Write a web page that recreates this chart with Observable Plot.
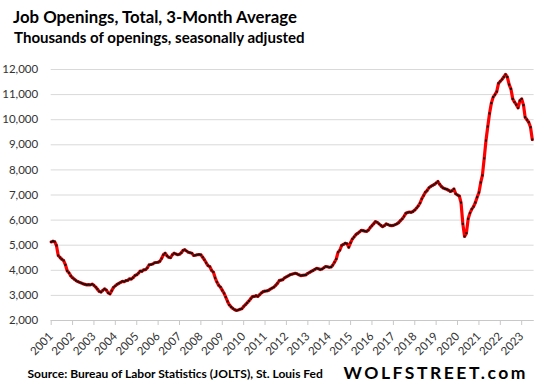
<!DOCTYPE html>
<html><head><meta charset="utf-8">
<script src="https://cdn.jsdelivr.net/npm/d3@7"></script>
<script src="https://cdn.jsdelivr.net/npm/@observablehq/plot@0.6"></script>
<style>
html,body{margin:0;padding:0;background:#fff;}
#wrap{position:relative;width:541px;height:390px;overflow:hidden;background:#fff;font-family:Lato,"Open Sans",sans-serif;}
.t{position:absolute;white-space:nowrap;font-weight:700;color:#000;line-height:1;}
#chart{position:absolute;left:0;top:52px;}
</style></head><body>
<div id="wrap">
  <div class="t" id="title">Job Openings, Total, 3-Month Average</div>
  <div class="t" id="subtitle">Thousands of openings, seasonally adjusted</div>
  <div id="chart"></div>
  <div class="t" id="source">Source: Bureau of Labor Statistics (JOLTS), St. Louis Fed</div>
  <div class="t" id="brand">WOLFSTREET.com</div>
</div>
<script>
// Monthly 3-month-average job openings (thousands), Jan of each year onward
const v2001 = [5130, 5160, 5140, 4990, 4590, 4510, 4440, 4390, 4220, 3980, 3900, 3780];
const v2002 = [3700, 3640, 3590, 3550, 3520, 3490, 3460, 3440, 3420, 3430, 3420, 3450];
const v2003 = [3400, 3330, 3250, 3160, 3130, 3200, 3260, 3210, 3100, 3060, 3190, 3320];
const v2004 = [3380, 3440, 3480, 3520, 3560, 3550, 3590, 3600, 3660, 3650, 3710, 3790];
const v2005 = [3820, 3890, 3970, 3960, 4020, 4030, 4100, 4220, 4230, 4250, 4300, 4310];
const v2006 = [4320, 4360, 4470, 4620, 4680, 4580, 4520, 4500, 4620, 4680, 4650, 4620];
const v2007 = [4640, 4700, 4790, 4820, 4770, 4720, 4700, 4680, 4590, 4600, 4620, 4630];
const v2008 = [4620, 4520, 4420, 4300, 4190, 4150, 4000, 3930, 3700, 3530, 3400, 3330];
const v2009 = [3200, 3080, 2930, 2760, 2620, 2540, 2480, 2430, 2400, 2420, 2450, 2470];
const v2010 = [2560, 2630, 2700, 2780, 2870, 2950, 2960, 2990, 2960, 3030, 3100, 3150];
const v2011 = [3170, 3180, 3200, 3250, 3290, 3330, 3400, 3480, 3590, 3610, 3630, 3700];
const v2012 = [3740, 3780, 3820, 3840, 3860, 3880, 3860, 3820, 3790, 3800, 3810, 3820];
const v2013 = [3880, 3920, 3960, 3990, 4040, 4080, 4060, 4030, 4050, 4100, 4150, 4140];
const v2014 = [4120, 4130, 4200, 4320, 4450, 4720, 4800, 4990, 5030, 5080, 5060, 4920];
const v2015 = [5100, 5250, 5330, 5420, 5470, 5530, 5590, 5580, 5560, 5550, 5600, 5700];
const v2016 = [5780, 5860, 5940, 5910, 5850, 5790, 5740, 5780, 5850, 5820, 5790, 5780];
const v2017 = [5790, 5820, 5850, 5900, 5980, 6050, 6150, 6270, 6300, 6320, 6310, 6340];
const v2018 = [6400, 6480, 6560, 6680, 6850, 6980, 7110, 7180, 7290, 7340, 7380, 7420];
const v2019 = [7480, 7540, 7430, 7340, 7280, 7250, 7230, 7190, 7140, 7170, 7240, 7050];
const v2020 = [7000, 6960, 6700, 5850, 5350, 5480, 6050, 6280, 6440, 6540, 6700, 6910];
const v2021 = [7100, 7500, 7780, 8460, 9170, 9730, 10250, 10660, 10900, 11000, 11120, 11450];
const v2022 = [11530, 11610, 11700, 11800, 11700, 11400, 11230, 10830, 10700, 10600, 10470, 10760];
const v2023 = [10830, 10580, 10100, 10000, 9900, 9700, 9210];

const yearLabels = [2001,2002,2003,2004,2005,2006,2007,2008,2009,2010,2011,2012,2013,2014,2015,2016,2017,2018,2019,2020,2021,2022,2023];
const yTicks = [2000,3000,4000,5000,6000,7000,8000,9000,10000,11000,12000];

const series = [v2001,v2002,v2003,v2004,v2005,v2006,v2007,v2008,v2009,v2010,v2011,v2012,v2013,v2014,v2015,v2016,v2017,v2018,v2019,v2020,v2021,v2022,v2023];
const data = [];
series.forEach((arr, yi) => arr.forEach((v, mi) => data.push({date: new Date(Date.UTC(yearLabels[yi], mi, 1)), value: v})));
const tickDates = yearLabels.map(y => new Date(Date.UTC(y, 0, 1)));

const chart = Plot.plot({
  width: 541, height: 305,
  marginTop: 17, marginBottom: 37, marginLeft: 50.7, marginRight: 7.4,
  x: {type: "utc", domain: [new Date(Date.UTC(2001,0,1)), new Date(Date.UTC(2023,7,1))]},
  y: {domain: [2000, 12000]},
  style: {fontFamily: "Lato, 'Open Sans', sans-serif", fontSize: "11.5px", color: "#333", background: "white"},
  marks: [
    Plot.gridY(yTicks, {stroke: "#d9d9d9", strokeOpacity: 1}),
    Plot.axisY(yTicks, {tickSize: 0, tickPadding: 13, tickFormat: d3.format(","), label: null}),
    Plot.ruleY([2000], {stroke: "#c8c8c8"}),
    Plot.axisX(tickDates, {tickRotate: -45, tickSize: 5, tickPadding: 9, tickFormat: d3.utcFormat("%Y"), stroke: "#c8c8c8", fill: "#333", label: null}),
    Plot.line(data, {x: "date", y: "value", stroke: "#ff0000", strokeWidth: 3.2}),
    Plot.dot(data, {x: "date", y: "value", r: 1.15, fill: "#111", symbol: "square"})
  ]
});
document.getElementById("chart").appendChild(chart);

// fit text to a width: either by font size (size null) or by letter-spacing at a fixed size
function place(id, left, right, baseline, size) {
  const el = document.getElementById(id);
  el.style.left = left + "px"; el.style.top = "0px";
  if (size == null) {
    el.style.fontSize = "20px";
    const w = el.getBoundingClientRect().width;
    el.style.fontSize = (20 * (right - left) / w) + "px";
  } else {
    el.style.fontSize = size + "px";
    const w = el.getBoundingClientRect().width;
    const n = el.textContent.length;
    el.style.letterSpacing = ((right - left - w) / n) + "px";
  }
  const m = document.createElement("span");
  m.style.cssText = "display:inline-block;width:0;height:0;vertical-align:baseline";
  el.appendChild(m);
  const b = m.getBoundingClientRect().top - el.getBoundingClientRect().top;
  el.style.top = (baseline - b) + "px";
}
place("title", 13, 297, 22.7);
place("subtitle", 14, 305, 43.4);
place("source", 27.5, 323, 378.3);
place("brand", 343.6, 528, 379, 17.5);
</script>
</body></html>
